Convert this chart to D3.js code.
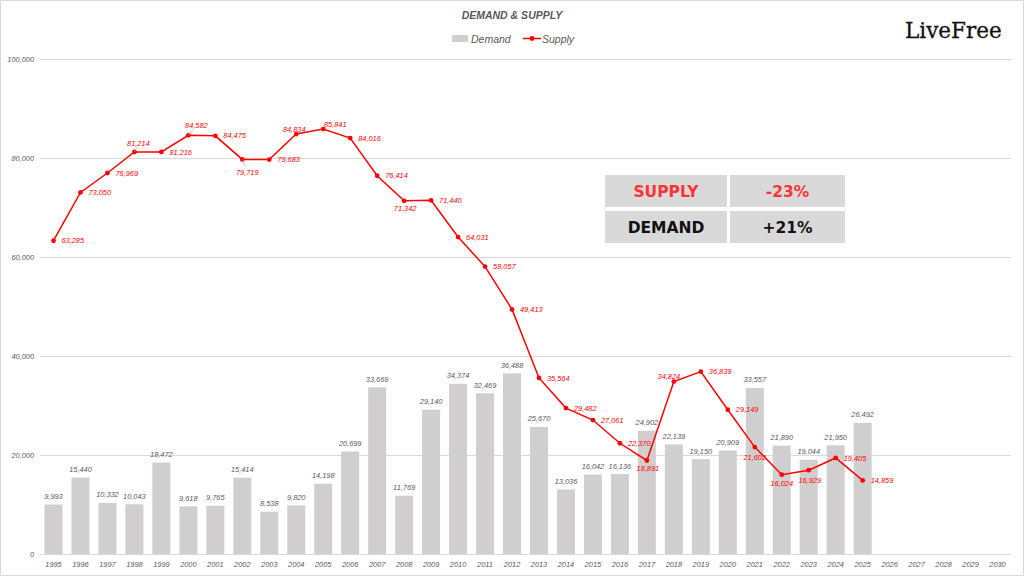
<!DOCTYPE html>
<html><head><meta charset="utf-8">
<script src="https://cdn.jsdelivr.net/npm/d3@7"></script>
<style>html,body{margin:0;padding:0;background:#fff;}svg{display:block;}</style>
</head><body>
<svg id="chart" width="1024" height="576"></svg>
<script>
const years = d3.range(1995, 2031).map(String);
const demandYears = d3.range(1995, 2026).map(String);
const demand = [9993,15440,10332,10043,18472,9618,9765,15414,8538,9820,14198,20699,33669,11769,29140,34374,32469,36488,25670,13036,16042,16136,24902,22139,19150,20909,33557,21890,19044,21950,26492];
const supply = [63285,73050,76969,81214,81216,84582,84475,79719,79683,84834,85841,84016,76414,71342,71440,64031,58057,49413,35564,29482,27061,22370,18891,34824,36839,29149,21602,16024,16929,19405,14859];
const yTicks = [0,20000,40000,60000,80000,100000];
const title = "DEMAND & SUPPLY";
const seriesNames = ["Demand","Supply"];
const tableRows = ["SUPPLY","DEMAND"];
const tableVals = ["-23%","+21%"];

const svg = d3.select("#chart");
const W = 1024, H = 576;
const grey = "#595959", red = "#ff0000";
const fnt = "'Liberation Sans', Arial, sans-serif";

svg.append("rect").attr("x",0.5).attr("y",0.5).attr("width",W-1).attr("height",H-1)
  .attr("fill","#fff").attr("stroke","#d9d9d9");

const x = d3.scaleBand().domain(years).range([40,1011]).paddingInner(0.333).paddingOuter(0.1667);
const y = d3.scaleLinear().domain([0,100000]).range([554,59]);
const cx = d => x(d) + x.bandwidth()/2;

// gridlines
svg.append("g").selectAll("line").data(yTicks).join("line")
  .attr("x1",40).attr("x2",1011).attr("y1",d=>Math.round(y(d))+0.5).attr("y2",d=>Math.round(y(d))+0.5)
  .attr("stroke","#d9d9d9").attr("stroke-width",1);

// y axis labels
const yAxis = d3.axisLeft(y).tickValues(yTicks).tickSize(0).tickFormat(d3.format(","));
const yg = svg.append("g").attr("transform","translate(37,0)").call(yAxis);
yg.select(".domain").remove();
yg.selectAll("text").attr("font-family",fnt).attr("font-style","italic").attr("font-size",7.4).attr("fill",grey).attr("dy","0.35em");

// bars
const dData = demandYears.map((yr,i)=>({yr, v:demand[i]}));
svg.append("g").selectAll("rect").data(dData).join("rect")
  .attr("x",d=>x(d.yr)).attr("width",x.bandwidth())
  .attr("y",d=>y(d.v)).attr("height",d=>y(0)-y(d.v)).attr("fill","#d0cece");

svg.append("g").selectAll("text").data(dData).join("text")
  .attr("x",d=>cx(d.yr)).attr("y",d=>y(d.v)-5.5).attr("text-anchor","middle")
  .attr("font-family",fnt).attr("font-style","italic").attr("font-size",7.4).attr("fill",grey)
  .text(d=>d3.format(",")(d.v));

// x axis
const xAxis = d3.axisBottom(x).tickSize(0);
const xg = svg.append("g").attr("transform","translate(0,554)").call(xAxis);
xg.select(".domain").attr("stroke","#d9d9d9").attr("d","M40,0.5H1011");
xg.selectAll("text").attr("font-family",fnt).attr("font-style","italic").attr("font-size",7.4).attr("fill",grey).attr("dy","1.3em");

// supply line
const sData = demandYears.map((yr,i)=>({yr, v:supply[i]}));
const line = d3.line().x(d=>cx(d.yr)).y(d=>y(d.v));
svg.append("path").datum(sData).attr("d",line).attr("fill","none").attr("stroke",red).attr("stroke-width",1.5);
svg.append("g").selectAll("circle").data(sData).join("circle")
  .attr("cx",d=>cx(d.yr)).attr("cy",d=>y(d.v)).attr("r",2.4).attr("fill",red);

// label placement (dx, dy of label center, anchor)
const place = {
  "1998":[4,-9,"middle"], "2000":[8,-10,"middle"], "2002":[5,13,"middle"],
  "2004":[-2,-5,"middle"], "2005":[12,-5,"middle"], "2008":[1,8,"middle"],
  "2017":[1,8,"middle"], "2018":[-5,-5,"middle"], "2021":[0,10,"middle"],
  "2022":[0,9,"middle"], "2023":[1,10,"middle"]
};
const leaders = {"1998":true,"2000":true,"2002":true};
svg.append("g").selectAll("line").data(sData.filter(d=>leaders[d.yr])).join("line")
  .attr("x1",d=>cx(d.yr)).attr("y1",d=>y(d.v))
  .attr("x2",d=>cx(d.yr)+place[d.yr][0]*0.6).attr("y2",d=>y(d.v)+place[d.yr][1]*0.55)
  .attr("stroke","#a6a6a6").attr("stroke-width",0.7);
svg.append("g").selectAll("text").data(sData).join("text")
  .attr("x",d=>cx(d.yr)+(place[d.yr]?place[d.yr][0]:8))
  .attr("y",d=>y(d.v)+(place[d.yr]?place[d.yr][1]:0))
  .attr("dy","0.35em")
  .attr("text-anchor",d=>place[d.yr]?place[d.yr][2]:"start")
  .attr("font-family",fnt).attr("font-style","italic").attr("font-size",7.4).attr("fill",red)
  .text(d=>d3.format(",")(d.v));

// title
svg.append("text").attr("x",512).attr("y",19).attr("text-anchor","middle")
  .attr("font-family",fnt).attr("font-style","italic").attr("font-weight","bold")
  .attr("font-size",10.5).attr("fill",grey).text(title);

// legend
const lg = svg.append("g");
lg.append("rect").attr("x",452).attr("y",35).attr("width",16).attr("height",7).attr("fill","#d0cece");
lg.append("text").attr("x",471).attr("y",42.5).attr("font-family",fnt).attr("font-style","italic")
  .attr("font-size",10.5).attr("fill",grey).text(seriesNames[0]);
lg.append("line").attr("x1",523).attr("x2",541).attr("y1",38.5).attr("y2",38.5).attr("stroke",red).attr("stroke-width",1.5);
lg.append("circle").attr("cx",532).attr("cy",38.5).attr("r",2.4).attr("fill",red);
lg.append("text").attr("x",542).attr("y",42.5).attr("font-family",fnt).attr("font-style","italic")
  .attr("font-size",10.5).attr("fill",grey).text(seriesNames[1]);

// logo
svg.append("text").attr("x",905).attr("y",38).attr("font-family","'DejaVu Serif', serif")
  .attr("font-size",21.5).attr("fill","#111").attr("stroke","#111").attr("stroke-width",0.3)
  .text("LiveFree");

// table
const tg = svg.append("g");
const rowY = [175,211], colX = [605,730], colW = [122,115], rowH = 32;
tableRows.forEach((r,i)=>{
  const col = i===0 ? "#ff3333" : "#111";
  tg.append("rect").attr("x",colX[0]).attr("y",rowY[i]).attr("width",colW[0]).attr("height",rowH).attr("fill","#d9d9d9");
  tg.append("rect").attr("x",colX[1]).attr("y",rowY[i]).attr("width",colW[1]).attr("height",rowH).attr("fill","#d9d9d9");
  tg.append("text").attr("x",colX[0]+colW[0]/2).attr("y",rowY[i]+rowH/2).attr("dy","0.36em").attr("text-anchor","middle")
    .attr("font-family","'DejaVu Sans', sans-serif").attr("font-weight","bold").attr("font-size",15.5).attr("fill",col).text(r);
  tg.append("text").attr("x",colX[1]+colW[1]/2).attr("y",rowY[i]+rowH/2).attr("dy","0.36em").attr("text-anchor","middle")
    .attr("font-family","'DejaVu Sans', sans-serif").attr("font-weight","bold").attr("font-size",15.5).attr("fill",col).text(tableVals[i]);
});
</script>
</body></html>
